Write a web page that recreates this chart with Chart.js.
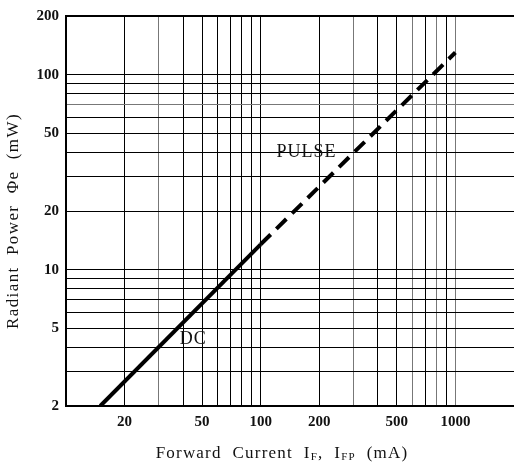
<!DOCTYPE html>
<html>
<head>
<meta charset="utf-8">
<script src="https://cdn.jsdelivr.net/npm/chart.js@4.4.0/dist/chart.umd.min.js"></script>
<style>
  html, body { margin: 0; padding: 0; background: #fff; }
  #wrap { width: 514px; height: 464px; }
</style>
</head>
<body>
<div id="wrap"><canvas id="radiantChart" width="514" height="464"></canvas></div>
<script>
// Radiant power vs forward current
const dcCurrent = [15, 100];        // mA
const dcPower = [2, 13.5];          // mW
const pulseCurrent = [100, 1000];   // mA
const pulsePower = [13.5, 130];     // mW

const xGrid = [10, 20, 30, 40, 50, 60, 70, 80, 90, 100, 200, 300, 400, 500, 600, 700, 800, 900, 1000];
const yGrid = [2, 3, 4, 5, 6, 7, 8, 9, 10, 20, 30, 40, 50, 60, 70, 80, 90, 100, 200];
const xTickLabels = [20, 50, 100, 200, 500, 1000];
const yTickLabels = [2, 5, 10, 20, 50, 100, 200];

// curve names and where they sit (current, power)
const curveNames = ["DC", "PULSE"];
const curveNameAt = [[45, 4.4], [172, 40]];

// scan looks lighter on some lines
const xLight = [30, 300, 600, 800, 1000];
const yLight = [70];

const serif = "'Liberation Serif', 'DejaVu Serif', serif";

const toPoints = (xs, ys) => xs.map((x, i) => ({ x: x, y: ys[i] }));

const textPlugin = {
  id: "sheetText",
  afterDraw(chart) {
    const ctx = chart.ctx;
    const xs = chart.scales.x;
    const ys = chart.scales.y;
    ctx.save();
    ctx.fillStyle = "#111";

    // curve names
    ctx.font = "18px " + serif;
    ctx.letterSpacing = "1px";
    ctx.textAlign = "center";
    ctx.textBaseline = "middle";
    curveNames.forEach((name, i) => {
      const px = xs.getPixelForValue(curveNameAt[i][0]);
      const py = ys.getPixelForValue(curveNameAt[i][1]);
      ctx.fillText(name, px, py);
    });

    // x title with subscripts
    const parts = [
      ["Forward  Current  I", false],
      ["F", true],
      [",  I", false],
      ["FP", true],
      ["  (mA)", false],
    ];
    const big = "17px " + serif;
    const small = "11px " + serif;
    ctx.letterSpacing = "1.2px";
    let total = 0;
    parts.forEach((p) => {
      ctx.font = p[1] ? small : big;
      total += ctx.measureText(p[0]).width;
    });
    let cx = 282 - total / 2;
    ctx.textAlign = "left";
    ctx.textBaseline = "alphabetic";
    parts.forEach((p) => {
      ctx.font = p[1] ? small : big;
      ctx.fillText(p[0], cx, p[1] ? 460 : 458);
      cx += ctx.measureText(p[0]).width;
    });

    // y title
    ctx.translate(14, 221);
    ctx.rotate(-Math.PI / 2);
    ctx.font = big;
    ctx.letterSpacing = "1.4px";
    ctx.textAlign = "center";
    ctx.textBaseline = "middle";
    ctx.fillText("Radiant  Power  \u03A6e  (mW)", 0, 0);
    ctx.restore();
  },
};

new Chart("radiantChart", {
  type: "line",
  data: {
    datasets: [
      {
        label: "DC",
        data: toPoints(dcCurrent, dcPower),
        borderColor: "#000",
        borderWidth: 4,
        pointRadius: 0,
        fill: false,
      },
      {
        label: "PULSE",
        data: toPoints(pulseCurrent, pulsePower),
        borderColor: "#000",
        borderWidth: 4,
        borderDash: [14, 8],
        pointRadius: 0,
        fill: false,
      },
    ],
  },
  options: {
    responsive: false,
    animation: false,
    layout: { padding: { top: 15, right: 0, left: 0, bottom: 0 } },
    plugins: {
      legend: { display: false },
      tooltip: { enabled: false },
    },
    scales: {
      x: {
        type: "logarithmic",
        min: 10,
        max: 2000,
        afterBuildTicks: (scale) => {
          scale.ticks = xGrid.map((v) => ({ value: v }));
        },
        afterFit: (scale) => {
          scale.height = 58;
        },
        ticks: {
          autoSkip: false,
          maxRotation: 0,
          padding: 7,
          color: "#111",
          font: { family: serif, size: 15, weight: "bold" },
          callback: (v) => (xTickLabels.includes(v) ? String(v) : ""),
        },
        grid: {
          drawTicks: false,
          lineWidth: 1,
          color: (c) => (c.tick && xLight.includes(c.tick.value) ? "#777" : "#000"),
        },
        border: { color: "#000", width: 2 },
      },
      y: {
        type: "logarithmic",
        min: 2,
        max: 200,
        afterBuildTicks: (scale) => {
          scale.ticks = yGrid.map((v) => ({ value: v }));
        },
        afterFit: (scale) => {
          scale.width = 66;
        },
        ticks: {
          autoSkip: false,
          padding: 7,
          color: "#111",
          font: { family: serif, size: 15, weight: "bold" },
          callback: (v) => (yTickLabels.includes(v) ? String(v) : ""),
        },
        grid: {
          drawTicks: false,
          lineWidth: (c) => (c.tick && c.tick.value === 200 ? 2 : 1),
          color: (c) => {
            if (c.tick && c.tick.value === 200) return "#000";
            return c.tick && yLight.includes(c.tick.value) ? "#777" : "#000";
          },
        },
        border: { color: "#000", width: 2 },
      },
    },
  },
  plugins: [textPlugin],
});
</script>
</body>
</html>
